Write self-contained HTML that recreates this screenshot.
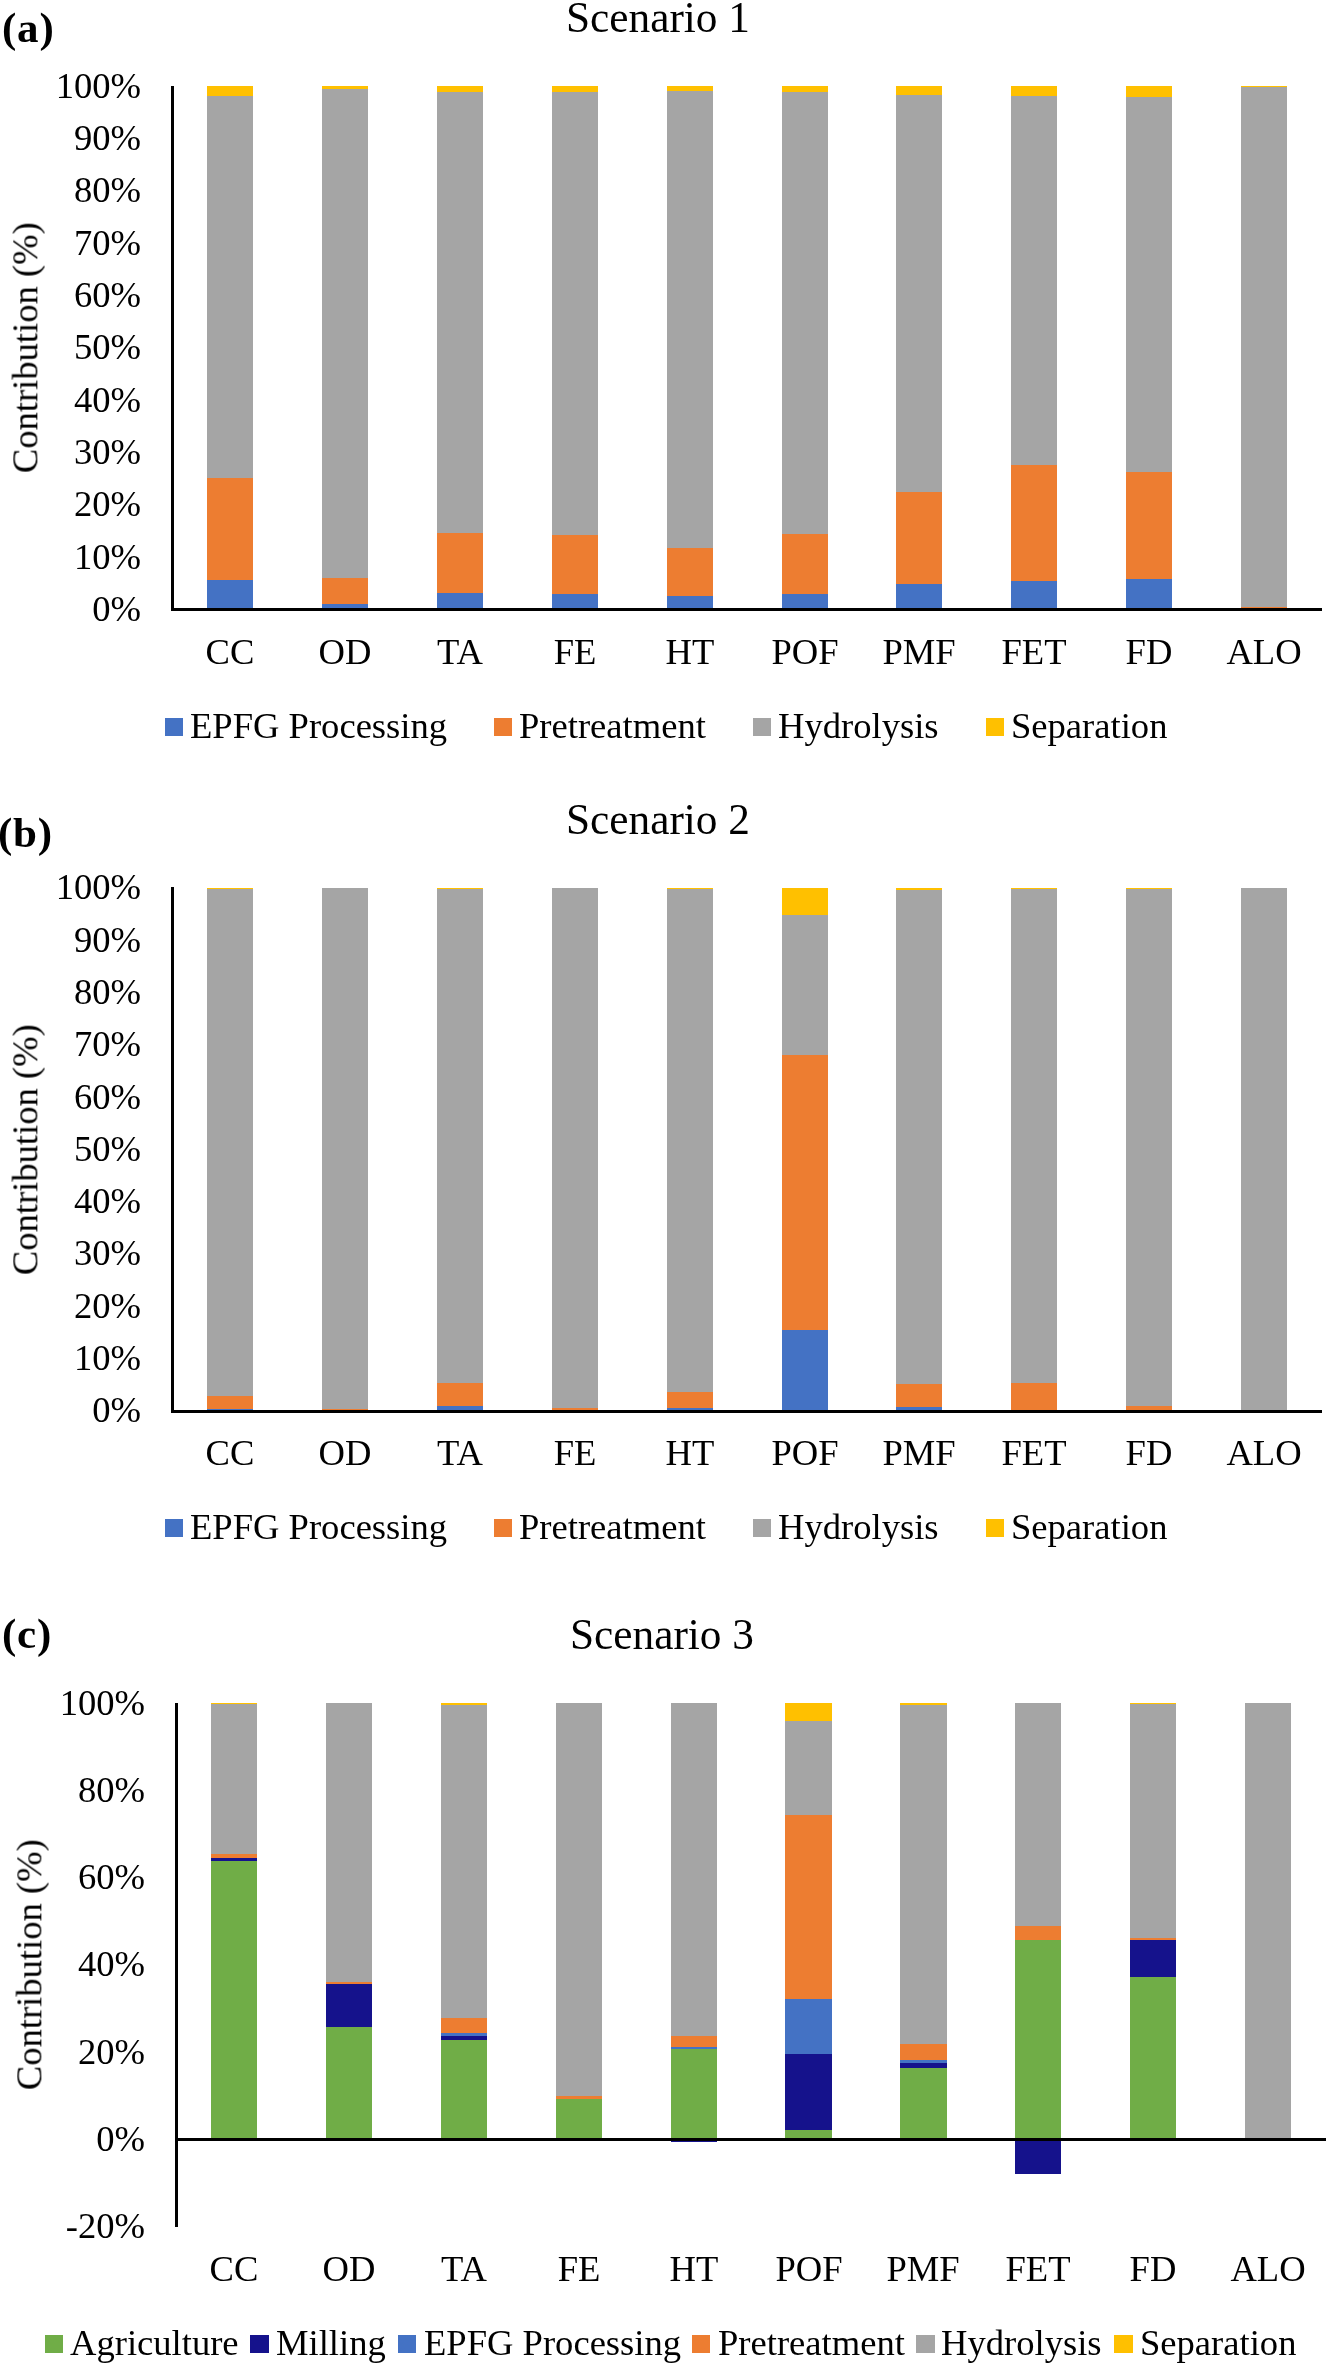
<!DOCTYPE html>
<html><head><meta charset="utf-8"><style>
html,body{margin:0;padding:0;background:#fff;}
body{width:1326px;height:2363px;position:relative;overflow:hidden;font-family:"Liberation Serif",serif;color:#000;}
.r{position:absolute;}
.t{position:absolute;white-space:nowrap;line-height:1;will-change:transform;}
</style></head><body>
<div class="r" style="left:207.00px;top:86.10px;width:46.00px;height:523.40px;background:#FFC000"></div>
<div class="r" style="left:207.00px;top:96.00px;width:46.00px;height:513.50px;background:#A5A5A5"></div>
<div class="r" style="left:207.00px;top:478.40px;width:46.00px;height:131.10px;background:#ED7D31"></div>
<div class="r" style="left:207.00px;top:580.30px;width:46.00px;height:29.20px;background:#4472C4"></div>
<div class="r" style="left:321.90px;top:86.10px;width:46.00px;height:523.40px;background:#FFC000"></div>
<div class="r" style="left:321.90px;top:88.70px;width:46.00px;height:520.80px;background:#A5A5A5"></div>
<div class="r" style="left:321.90px;top:578.30px;width:46.00px;height:31.20px;background:#ED7D31"></div>
<div class="r" style="left:321.90px;top:603.50px;width:46.00px;height:6.00px;background:#4472C4"></div>
<div class="r" style="left:436.80px;top:86.10px;width:46.00px;height:523.40px;background:#FFC000"></div>
<div class="r" style="left:436.80px;top:92.00px;width:46.00px;height:517.50px;background:#A5A5A5"></div>
<div class="r" style="left:436.80px;top:532.70px;width:46.00px;height:76.80px;background:#ED7D31"></div>
<div class="r" style="left:436.80px;top:592.70px;width:46.00px;height:16.80px;background:#4472C4"></div>
<div class="r" style="left:551.70px;top:86.10px;width:46.00px;height:523.40px;background:#FFC000"></div>
<div class="r" style="left:551.70px;top:92.00px;width:46.00px;height:517.50px;background:#A5A5A5"></div>
<div class="r" style="left:551.70px;top:534.70px;width:46.00px;height:74.80px;background:#ED7D31"></div>
<div class="r" style="left:551.70px;top:593.50px;width:46.00px;height:16.00px;background:#4472C4"></div>
<div class="r" style="left:666.60px;top:86.10px;width:46.00px;height:523.40px;background:#FFC000"></div>
<div class="r" style="left:666.60px;top:90.80px;width:46.00px;height:518.70px;background:#A5A5A5"></div>
<div class="r" style="left:666.60px;top:547.90px;width:46.00px;height:61.60px;background:#ED7D31"></div>
<div class="r" style="left:666.60px;top:596.30px;width:46.00px;height:13.20px;background:#4472C4"></div>
<div class="r" style="left:781.50px;top:86.10px;width:46.00px;height:523.40px;background:#FFC000"></div>
<div class="r" style="left:781.50px;top:91.80px;width:46.00px;height:517.70px;background:#A5A5A5"></div>
<div class="r" style="left:781.50px;top:534.10px;width:46.00px;height:75.40px;background:#ED7D31"></div>
<div class="r" style="left:781.50px;top:593.50px;width:46.00px;height:16.00px;background:#4472C4"></div>
<div class="r" style="left:896.40px;top:86.10px;width:46.00px;height:523.40px;background:#FFC000"></div>
<div class="r" style="left:896.40px;top:94.90px;width:46.00px;height:514.60px;background:#A5A5A5"></div>
<div class="r" style="left:896.40px;top:491.70px;width:46.00px;height:117.80px;background:#ED7D31"></div>
<div class="r" style="left:896.40px;top:583.80px;width:46.00px;height:25.70px;background:#4472C4"></div>
<div class="r" style="left:1011.30px;top:86.10px;width:46.00px;height:523.40px;background:#FFC000"></div>
<div class="r" style="left:1011.30px;top:95.80px;width:46.00px;height:513.70px;background:#A5A5A5"></div>
<div class="r" style="left:1011.30px;top:465.20px;width:46.00px;height:144.30px;background:#ED7D31"></div>
<div class="r" style="left:1011.30px;top:580.50px;width:46.00px;height:29.00px;background:#4472C4"></div>
<div class="r" style="left:1126.20px;top:86.10px;width:46.00px;height:523.40px;background:#FFC000"></div>
<div class="r" style="left:1126.20px;top:96.50px;width:46.00px;height:513.00px;background:#A5A5A5"></div>
<div class="r" style="left:1126.20px;top:471.80px;width:46.00px;height:137.70px;background:#ED7D31"></div>
<div class="r" style="left:1126.20px;top:578.90px;width:46.00px;height:30.60px;background:#4472C4"></div>
<div class="r" style="left:1241.10px;top:86.10px;width:46.00px;height:523.40px;background:#FFC000"></div>
<div class="r" style="left:1241.10px;top:87.00px;width:46.00px;height:522.50px;background:#A5A5A5"></div>
<div class="r" style="left:1241.10px;top:606.50px;width:46.00px;height:3.00px;background:#ED7D31"></div>
<div class="r" style="left:171.00px;top:86.00px;width:3.00px;height:525.00px;background:#000"></div>
<div class="r" style="left:171.00px;top:608.00px;width:1151.00px;height:3.00px;background:#000"></div>
<div class="r" style="left:207.00px;top:887.50px;width:46.00px;height:523.40px;background:#FFC000"></div>
<div class="r" style="left:207.00px;top:888.50px;width:46.00px;height:522.40px;background:#A5A5A5"></div>
<div class="r" style="left:207.00px;top:1395.50px;width:46.00px;height:15.40px;background:#ED7D31"></div>
<div class="r" style="left:207.00px;top:1408.60px;width:46.00px;height:2.30px;background:#4472C4"></div>
<div class="r" style="left:321.90px;top:887.50px;width:46.00px;height:523.40px;background:#A5A5A5"></div>
<div class="r" style="left:321.90px;top:1408.60px;width:46.00px;height:2.30px;background:#ED7D31"></div>
<div class="r" style="left:436.80px;top:887.50px;width:46.00px;height:523.40px;background:#FFC000"></div>
<div class="r" style="left:436.80px;top:889.00px;width:46.00px;height:521.90px;background:#A5A5A5"></div>
<div class="r" style="left:436.80px;top:1382.70px;width:46.00px;height:28.20px;background:#ED7D31"></div>
<div class="r" style="left:436.80px;top:1405.90px;width:46.00px;height:5.00px;background:#4472C4"></div>
<div class="r" style="left:551.70px;top:887.50px;width:46.00px;height:523.40px;background:#A5A5A5"></div>
<div class="r" style="left:551.70px;top:1407.60px;width:46.00px;height:3.30px;background:#ED7D31"></div>
<div class="r" style="left:666.60px;top:887.50px;width:46.00px;height:523.40px;background:#FFC000"></div>
<div class="r" style="left:666.60px;top:888.70px;width:46.00px;height:522.20px;background:#A5A5A5"></div>
<div class="r" style="left:666.60px;top:1392.40px;width:46.00px;height:18.50px;background:#ED7D31"></div>
<div class="r" style="left:666.60px;top:1408.00px;width:46.00px;height:2.90px;background:#4472C4"></div>
<div class="r" style="left:781.50px;top:887.50px;width:46.00px;height:523.40px;background:#FFC000"></div>
<div class="r" style="left:781.50px;top:914.70px;width:46.00px;height:496.20px;background:#A5A5A5"></div>
<div class="r" style="left:781.50px;top:1054.70px;width:46.00px;height:356.20px;background:#ED7D31"></div>
<div class="r" style="left:781.50px;top:1329.60px;width:46.00px;height:81.30px;background:#4472C4"></div>
<div class="r" style="left:896.40px;top:887.50px;width:46.00px;height:523.40px;background:#FFC000"></div>
<div class="r" style="left:896.40px;top:889.60px;width:46.00px;height:521.30px;background:#A5A5A5"></div>
<div class="r" style="left:896.40px;top:1383.90px;width:46.00px;height:27.00px;background:#ED7D31"></div>
<div class="r" style="left:896.40px;top:1406.50px;width:46.00px;height:4.40px;background:#4472C4"></div>
<div class="r" style="left:1011.30px;top:887.50px;width:46.00px;height:523.40px;background:#FFC000"></div>
<div class="r" style="left:1011.30px;top:888.50px;width:46.00px;height:522.40px;background:#A5A5A5"></div>
<div class="r" style="left:1011.30px;top:1383.30px;width:46.00px;height:27.60px;background:#ED7D31"></div>
<div class="r" style="left:1126.20px;top:887.50px;width:46.00px;height:523.40px;background:#FFC000"></div>
<div class="r" style="left:1126.20px;top:888.50px;width:46.00px;height:522.40px;background:#A5A5A5"></div>
<div class="r" style="left:1126.20px;top:1405.80px;width:46.00px;height:5.10px;background:#ED7D31"></div>
<div class="r" style="left:1241.10px;top:887.50px;width:46.00px;height:523.40px;background:#A5A5A5"></div>
<div class="r" style="left:171.00px;top:887.40px;width:3.00px;height:525.00px;background:#000"></div>
<div class="r" style="left:171.00px;top:1409.50px;width:1151.00px;height:3.00px;background:#000"></div>
<div class="r" style="left:210.80px;top:1703.10px;width:46.20px;height:436.40px;background:#FFC000"></div>
<div class="r" style="left:210.80px;top:1704.00px;width:46.20px;height:435.50px;background:#A5A5A5"></div>
<div class="r" style="left:210.80px;top:1853.60px;width:46.20px;height:285.90px;background:#ED7D31"></div>
<div class="r" style="left:210.80px;top:1857.60px;width:46.20px;height:281.90px;background:#15128C"></div>
<div class="r" style="left:210.80px;top:1860.80px;width:46.20px;height:278.70px;background:#70AD47"></div>
<div class="r" style="left:325.73px;top:1703.10px;width:46.20px;height:436.40px;background:#A5A5A5"></div>
<div class="r" style="left:325.73px;top:1981.90px;width:46.20px;height:157.60px;background:#ED7D31"></div>
<div class="r" style="left:325.73px;top:1983.80px;width:46.20px;height:155.70px;background:#15128C"></div>
<div class="r" style="left:325.73px;top:2027.40px;width:46.20px;height:112.10px;background:#70AD47"></div>
<div class="r" style="left:440.66px;top:1703.10px;width:46.20px;height:436.40px;background:#FFC000"></div>
<div class="r" style="left:440.66px;top:1705.00px;width:46.20px;height:434.50px;background:#A5A5A5"></div>
<div class="r" style="left:440.66px;top:2018.10px;width:46.20px;height:121.40px;background:#ED7D31"></div>
<div class="r" style="left:440.66px;top:2032.90px;width:46.20px;height:106.60px;background:#4472C4"></div>
<div class="r" style="left:440.66px;top:2035.80px;width:46.20px;height:103.70px;background:#15128C"></div>
<div class="r" style="left:440.66px;top:2040.10px;width:46.20px;height:99.40px;background:#70AD47"></div>
<div class="r" style="left:555.59px;top:1703.10px;width:46.20px;height:436.40px;background:#A5A5A5"></div>
<div class="r" style="left:555.59px;top:2095.70px;width:46.20px;height:43.80px;background:#ED7D31"></div>
<div class="r" style="left:555.59px;top:2098.70px;width:46.20px;height:40.80px;background:#15128C"></div>
<div class="r" style="left:555.59px;top:2099.20px;width:46.20px;height:40.30px;background:#70AD47"></div>
<div class="r" style="left:670.52px;top:1703.10px;width:46.20px;height:436.40px;background:#A5A5A5"></div>
<div class="r" style="left:670.52px;top:2036.00px;width:46.20px;height:103.50px;background:#ED7D31"></div>
<div class="r" style="left:670.52px;top:2046.70px;width:46.20px;height:92.80px;background:#4472C4"></div>
<div class="r" style="left:670.52px;top:2048.50px;width:46.20px;height:91.00px;background:#15128C"></div>
<div class="r" style="left:670.52px;top:2049.40px;width:46.20px;height:90.10px;background:#70AD47"></div>
<div class="r" style="left:670.52px;top:2139.50px;width:46.20px;height:2.60px;background:#15128C"></div>
<div class="r" style="left:785.45px;top:1703.10px;width:46.20px;height:436.40px;background:#FFC000"></div>
<div class="r" style="left:785.45px;top:1721.00px;width:46.20px;height:418.50px;background:#A5A5A5"></div>
<div class="r" style="left:785.45px;top:1814.70px;width:46.20px;height:324.80px;background:#ED7D31"></div>
<div class="r" style="left:785.45px;top:1998.90px;width:46.20px;height:140.60px;background:#4472C4"></div>
<div class="r" style="left:785.45px;top:2053.70px;width:46.20px;height:85.80px;background:#15128C"></div>
<div class="r" style="left:785.45px;top:2130.10px;width:46.20px;height:9.40px;background:#70AD47"></div>
<div class="r" style="left:900.38px;top:1703.10px;width:46.20px;height:436.40px;background:#FFC000"></div>
<div class="r" style="left:900.38px;top:1704.50px;width:46.20px;height:435.00px;background:#A5A5A5"></div>
<div class="r" style="left:900.38px;top:2043.60px;width:46.20px;height:95.90px;background:#ED7D31"></div>
<div class="r" style="left:900.38px;top:2060.10px;width:46.20px;height:79.40px;background:#4472C4"></div>
<div class="r" style="left:900.38px;top:2062.60px;width:46.20px;height:76.90px;background:#15128C"></div>
<div class="r" style="left:900.38px;top:2067.70px;width:46.20px;height:71.80px;background:#70AD47"></div>
<div class="r" style="left:1015.31px;top:1703.10px;width:46.20px;height:436.40px;background:#A5A5A5"></div>
<div class="r" style="left:1015.31px;top:1926.00px;width:46.20px;height:213.50px;background:#ED7D31"></div>
<div class="r" style="left:1015.31px;top:1940.20px;width:46.20px;height:199.30px;background:#70AD47"></div>
<div class="r" style="left:1015.31px;top:2139.50px;width:46.20px;height:34.60px;background:#15128C"></div>
<div class="r" style="left:1130.24px;top:1703.10px;width:46.20px;height:436.40px;background:#FFC000"></div>
<div class="r" style="left:1130.24px;top:1704.00px;width:46.20px;height:435.50px;background:#A5A5A5"></div>
<div class="r" style="left:1130.24px;top:1938.00px;width:46.20px;height:201.50px;background:#ED7D31"></div>
<div class="r" style="left:1130.24px;top:1939.90px;width:46.20px;height:199.60px;background:#15128C"></div>
<div class="r" style="left:1130.24px;top:1977.00px;width:46.20px;height:162.50px;background:#70AD47"></div>
<div class="r" style="left:1245.17px;top:1703.10px;width:46.20px;height:436.40px;background:#A5A5A5"></div>
<div class="r" style="left:175.00px;top:1703.00px;width:3.00px;height:523.70px;background:#000"></div>
<div class="r" style="left:175.00px;top:2138.00px;width:1150.50px;height:3.00px;background:#000"></div>
<div class="t" style="left:-459.50px;width:600px;text-align:right;top:67.85px;font-size:36.6px;">100%</div>
<div class="t" style="left:-459.50px;width:600px;text-align:right;top:869.25px;font-size:36.6px;">100%</div>
<div class="t" style="left:-459.50px;width:600px;text-align:right;top:120.17px;font-size:36.6px;">90%</div>
<div class="t" style="left:-459.50px;width:600px;text-align:right;top:921.57px;font-size:36.6px;">90%</div>
<div class="t" style="left:-459.50px;width:600px;text-align:right;top:172.49px;font-size:36.6px;">80%</div>
<div class="t" style="left:-459.50px;width:600px;text-align:right;top:973.89px;font-size:36.6px;">80%</div>
<div class="t" style="left:-459.50px;width:600px;text-align:right;top:224.81px;font-size:36.6px;">70%</div>
<div class="t" style="left:-459.50px;width:600px;text-align:right;top:1026.21px;font-size:36.6px;">70%</div>
<div class="t" style="left:-459.50px;width:600px;text-align:right;top:277.13px;font-size:36.6px;">60%</div>
<div class="t" style="left:-459.50px;width:600px;text-align:right;top:1078.53px;font-size:36.6px;">60%</div>
<div class="t" style="left:-459.50px;width:600px;text-align:right;top:329.45px;font-size:36.6px;">50%</div>
<div class="t" style="left:-459.50px;width:600px;text-align:right;top:1130.85px;font-size:36.6px;">50%</div>
<div class="t" style="left:-459.50px;width:600px;text-align:right;top:381.77px;font-size:36.6px;">40%</div>
<div class="t" style="left:-459.50px;width:600px;text-align:right;top:1183.17px;font-size:36.6px;">40%</div>
<div class="t" style="left:-459.50px;width:600px;text-align:right;top:434.09px;font-size:36.6px;">30%</div>
<div class="t" style="left:-459.50px;width:600px;text-align:right;top:1235.49px;font-size:36.6px;">30%</div>
<div class="t" style="left:-459.50px;width:600px;text-align:right;top:486.41px;font-size:36.6px;">20%</div>
<div class="t" style="left:-459.50px;width:600px;text-align:right;top:1287.81px;font-size:36.6px;">20%</div>
<div class="t" style="left:-459.50px;width:600px;text-align:right;top:538.73px;font-size:36.6px;">10%</div>
<div class="t" style="left:-459.50px;width:600px;text-align:right;top:1340.13px;font-size:36.6px;">10%</div>
<div class="t" style="left:-459.50px;width:600px;text-align:right;top:591.05px;font-size:36.6px;">0%</div>
<div class="t" style="left:-459.50px;width:600px;text-align:right;top:1392.45px;font-size:36.6px;">0%</div>
<div class="t" style="left:-455.00px;width:600px;text-align:right;top:1684.65px;font-size:36.6px;">100%</div>
<div class="t" style="left:-455.00px;width:600px;text-align:right;top:1771.93px;font-size:36.6px;">80%</div>
<div class="t" style="left:-455.00px;width:600px;text-align:right;top:1859.21px;font-size:36.6px;">60%</div>
<div class="t" style="left:-455.00px;width:600px;text-align:right;top:1946.49px;font-size:36.6px;">40%</div>
<div class="t" style="left:-455.00px;width:600px;text-align:right;top:2033.77px;font-size:36.6px;">20%</div>
<div class="t" style="left:-455.00px;width:600px;text-align:right;top:2121.05px;font-size:36.6px;">0%</div>
<div class="t" style="left:-455.00px;width:600px;text-align:right;top:2208.33px;font-size:36.6px;">-20%</div>
<div class="t" style="left:-70.00px;width:600px;text-align:center;top:633.85px;font-size:36.6px;">CC</div>
<div class="t" style="left:-70.00px;width:600px;text-align:center;top:1435.35px;font-size:36.6px;">CC</div>
<div class="t" style="left:-66.10px;width:600px;text-align:center;top:2251.15px;font-size:36.6px;">CC</div>
<div class="t" style="left:44.90px;width:600px;text-align:center;top:633.85px;font-size:36.6px;">OD</div>
<div class="t" style="left:44.90px;width:600px;text-align:center;top:1435.35px;font-size:36.6px;">OD</div>
<div class="t" style="left:48.83px;width:600px;text-align:center;top:2251.15px;font-size:36.6px;">OD</div>
<div class="t" style="left:159.80px;width:600px;text-align:center;top:633.85px;font-size:36.6px;">TA</div>
<div class="t" style="left:159.80px;width:600px;text-align:center;top:1435.35px;font-size:36.6px;">TA</div>
<div class="t" style="left:163.76px;width:600px;text-align:center;top:2251.15px;font-size:36.6px;">TA</div>
<div class="t" style="left:274.70px;width:600px;text-align:center;top:633.85px;font-size:36.6px;">FE</div>
<div class="t" style="left:274.70px;width:600px;text-align:center;top:1435.35px;font-size:36.6px;">FE</div>
<div class="t" style="left:278.69px;width:600px;text-align:center;top:2251.15px;font-size:36.6px;">FE</div>
<div class="t" style="left:389.60px;width:600px;text-align:center;top:633.85px;font-size:36.6px;">HT</div>
<div class="t" style="left:389.60px;width:600px;text-align:center;top:1435.35px;font-size:36.6px;">HT</div>
<div class="t" style="left:393.62px;width:600px;text-align:center;top:2251.15px;font-size:36.6px;">HT</div>
<div class="t" style="left:504.50px;width:600px;text-align:center;top:633.85px;font-size:36.6px;">POF</div>
<div class="t" style="left:504.50px;width:600px;text-align:center;top:1435.35px;font-size:36.6px;">POF</div>
<div class="t" style="left:508.55px;width:600px;text-align:center;top:2251.15px;font-size:36.6px;">POF</div>
<div class="t" style="left:619.40px;width:600px;text-align:center;top:633.85px;font-size:36.6px;">PMF</div>
<div class="t" style="left:619.40px;width:600px;text-align:center;top:1435.35px;font-size:36.6px;">PMF</div>
<div class="t" style="left:623.48px;width:600px;text-align:center;top:2251.15px;font-size:36.6px;">PMF</div>
<div class="t" style="left:734.30px;width:600px;text-align:center;top:633.85px;font-size:36.6px;">FET</div>
<div class="t" style="left:734.30px;width:600px;text-align:center;top:1435.35px;font-size:36.6px;">FET</div>
<div class="t" style="left:738.41px;width:600px;text-align:center;top:2251.15px;font-size:36.6px;">FET</div>
<div class="t" style="left:849.20px;width:600px;text-align:center;top:633.85px;font-size:36.6px;">FD</div>
<div class="t" style="left:849.20px;width:600px;text-align:center;top:1435.35px;font-size:36.6px;">FD</div>
<div class="t" style="left:853.34px;width:600px;text-align:center;top:2251.15px;font-size:36.6px;">FD</div>
<div class="t" style="left:964.10px;width:600px;text-align:center;top:633.85px;font-size:36.6px;">ALO</div>
<div class="t" style="left:964.10px;width:600px;text-align:center;top:1435.35px;font-size:36.6px;">ALO</div>
<div class="t" style="left:968.27px;width:600px;text-align:center;top:2251.15px;font-size:36.6px;">ALO</div>
<div class="t" style="left:-262.10px;top:317.35px;width:600px;text-align:center;font-size:36.6px;transform-origin:300.0px 30.65px;transform:rotate(-90deg)">Contribution (%)</div>
<div class="t" style="left:-262.10px;top:1118.55px;width:600px;text-align:center;font-size:36.6px;transform-origin:300.0px 30.65px;transform:rotate(-90deg)">Contribution (%)</div>
<div class="t" style="left:-257.80px;top:1934.45px;width:600px;text-align:center;font-size:36.6px;transform-origin:300.0px 30.65px;transform:rotate(-90deg)">Contribution (%)</div>
<div class="t" style="left:358.30px;width:600px;text-align:center;top:-3.86px;font-size:43.3px;">Scenario 1</div>
<div class="t" style="left:358.30px;width:600px;text-align:center;top:797.74px;font-size:43.3px;">Scenario 2</div>
<div class="t" style="left:362.30px;width:600px;text-align:center;top:1612.94px;font-size:43.3px;">Scenario 3</div>
<div class="t" style="left:2.00px;top:5.99px;font-size:43px;font-weight:bold;letter-spacing:0.8px;">(a)</div>
<div class="t" style="left:-2.00px;top:811.29px;font-size:43px;font-weight:bold;letter-spacing:0.8px;">(b)</div>
<div class="t" style="left:2.00px;top:1612.19px;font-size:43px;font-weight:bold;letter-spacing:0.8px;">(c)</div>
<div class="r" style="left:164.80px;top:717.60px;width:18.20px;height:18.20px;background:#4472C4"></div>
<div class="t" style="left:190.00px;top:707.85px;font-size:36.6px;">EPFG Processing</div>
<div class="r" style="left:494.20px;top:717.60px;width:18.20px;height:18.20px;background:#ED7D31"></div>
<div class="t" style="left:519.00px;top:707.85px;font-size:36.6px;">Pretreatment</div>
<div class="r" style="left:753.10px;top:717.60px;width:18.20px;height:18.20px;background:#A5A5A5"></div>
<div class="t" style="left:778.00px;top:707.85px;font-size:36.6px;">Hydrolysis</div>
<div class="r" style="left:985.60px;top:717.60px;width:18.20px;height:18.20px;background:#FFC000"></div>
<div class="t" style="left:1011.00px;top:707.85px;font-size:36.6px;">Separation</div>
<div class="r" style="left:164.80px;top:1519.10px;width:18.20px;height:18.20px;background:#4472C4"></div>
<div class="t" style="left:190.00px;top:1509.45px;font-size:36.6px;">EPFG Processing</div>
<div class="r" style="left:494.20px;top:1519.10px;width:18.20px;height:18.20px;background:#ED7D31"></div>
<div class="t" style="left:519.00px;top:1509.45px;font-size:36.6px;">Pretreatment</div>
<div class="r" style="left:753.10px;top:1519.10px;width:18.20px;height:18.20px;background:#A5A5A5"></div>
<div class="t" style="left:778.00px;top:1509.45px;font-size:36.6px;">Hydrolysis</div>
<div class="r" style="left:985.60px;top:1519.10px;width:18.20px;height:18.20px;background:#FFC000"></div>
<div class="t" style="left:1011.00px;top:1509.45px;font-size:36.6px;">Separation</div>
<div class="r" style="left:44.90px;top:2334.50px;width:18.60px;height:18.40px;background:#70AD47"></div>
<div class="t" style="left:70.00px;top:2325.25px;font-size:36.6px;">Agriculture</div>
<div class="r" style="left:250.20px;top:2334.50px;width:18.60px;height:18.40px;background:#15128C"></div>
<div class="t" style="left:276.00px;top:2325.25px;font-size:36.6px;">Milling</div>
<div class="r" style="left:397.60px;top:2334.50px;width:18.60px;height:18.40px;background:#4472C4"></div>
<div class="t" style="left:423.50px;top:2325.25px;font-size:36.6px;">EPFG Processing</div>
<div class="r" style="left:691.70px;top:2334.50px;width:18.60px;height:18.40px;background:#ED7D31"></div>
<div class="t" style="left:717.50px;top:2325.25px;font-size:36.6px;">Pretreatment</div>
<div class="r" style="left:916.20px;top:2334.50px;width:18.60px;height:18.40px;background:#A5A5A5"></div>
<div class="t" style="left:941.00px;top:2325.25px;font-size:36.6px;">Hydrolysis</div>
<div class="r" style="left:1114.00px;top:2334.50px;width:18.60px;height:18.40px;background:#FFC000"></div>
<div class="t" style="left:1139.50px;top:2325.25px;font-size:36.6px;">Separation</div>
</body></html>
